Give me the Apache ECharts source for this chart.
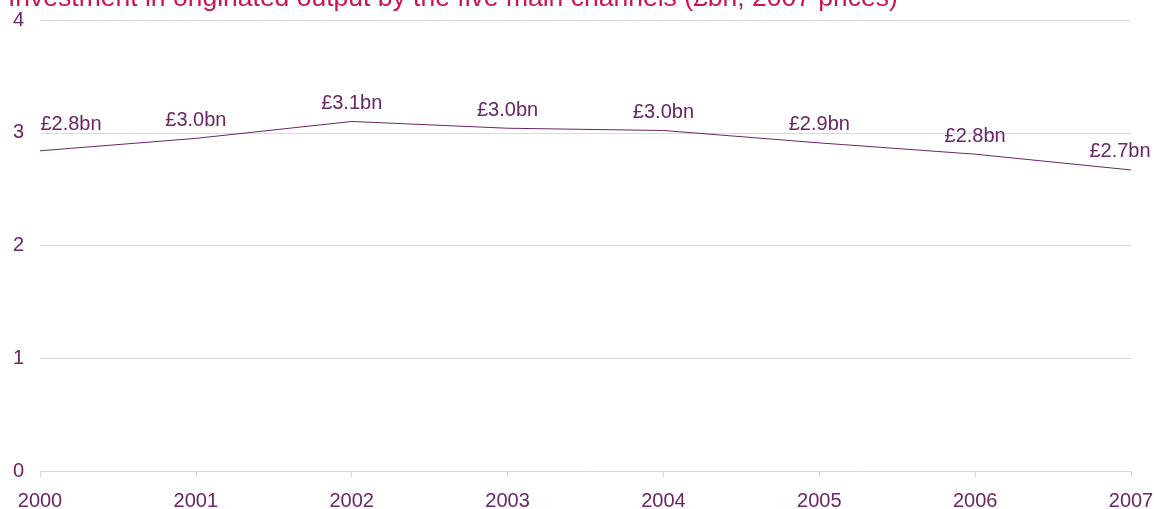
<!DOCTYPE html>
<html>
<head>
<meta charset="utf-8">
<script src="https://cdn.jsdelivr.net/npm/echarts@6/dist/echarts.min.js"></script>
<style>
  html, body { margin: 0; padding: 0; background: #ffffff; }
  #chart { width: 1154px; height: 509px; }
</style>
</head>
<body>
<div id="chart"></div>
<script>
// Investment in originated output, five main channels (£bn, 2007 prices)
const years = ['2000', '2001', '2002', '2003', '2004', '2005', '2006', '2007'];
const investment = [2.84, 2.95, 3.10, 3.04, 3.02, 2.91, 2.81, 2.67];
const valueLabels = ['£2.8bn', '£3.0bn', '£3.1bn', '£3.0bn', '£3.0bn', '£2.9bn', '£2.8bn', '£2.7bn'];
const yTicks = [0, 1, 2, 3, 4];

const PURPLE = '#6b2466';
const GRID = '#d9d9d9';
const FONT = '"Liberation Sans", Arial, sans-serif';

const chart = echarts.init(document.getElementById('chart'), null, { renderer: 'canvas' });

// Label placement: end points are nudged inward so they stay inside the frame
const seriesData = investment.map((v, i) => {
  const item = { value: v, label: { show: true, formatter: valueLabels[i] } };
  if (i === 0) item.label.offset = [31, -8];
  if (i === investment.length - 1) item.label.offset = [-11, 0];
  return item;
});

chart.setOption({
  backgroundColor: '#ffffff',
  animation: false,
  title: {
    text: 'Investment in originated output by the five main channels (£bn, 2007 prices)',
    left: 8,
    top: -15,
    padding: 0,
    textStyle: { color: '#cc1452', fontSize: 26.5, fontWeight: 'normal', fontFamily: FONT }
  },
  grid: { left: 40, right: 23, top: 20, bottom: 38, containLabel: false, outerBoundsMode: 'none' },
  xAxis: {
    type: 'category',
    data: years,
    boundaryGap: false,
    axisLine: { show: true, lineStyle: { color: GRID, width: 1 } },
    axisTick: { show: true, alignWithLabel: true, length: 6, lineStyle: { color: GRID } },
    axisLabel: { color: PURPLE, fontSize: 20, fontFamily: FONT, margin: 20 },
    splitLine: { show: false }
  },
  yAxis: {
    type: 'value',
    min: yTicks[0],
    max: yTicks[yTicks.length - 1],
    interval: 1,
    axisLine: { show: false },
    axisTick: { show: false },
    axisLabel: { color: PURPLE, fontSize: 20, fontFamily: FONT, margin: 16, padding: [3, 0, 0, 0] },
    splitLine: { show: true, lineStyle: { color: GRID, width: 1 } }
  },
  series: [{
    type: 'line',
    data: seriesData,
    symbol: 'circle',
    symbolSize: 2,
    showSymbol: true,
    itemStyle: { color: 'rgba(0,0,0,0)' },
    lineStyle: { color: PURPLE, width: 1 },
    label: {
      show: true,
      position: 'top',
      distance: 7,
      color: PURPLE,
      fontSize: 20,
      fontFamily: FONT
    }
  }]
});
</script>
</body>
</html>
